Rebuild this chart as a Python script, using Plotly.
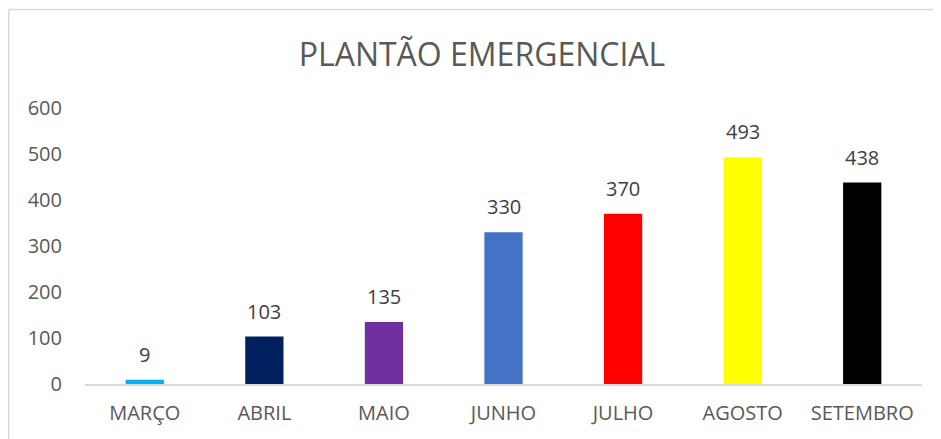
import plotly.graph_objects as go

categories = ["MARÇO", "ABRIL", "MAIO", "JUNHO", "JULHO", "AGOSTO", "SETEMBRO"]
values = [9, 103, 135, 330, 370, 493, 438]
colors = ["#00B0F0", "#002060", "#7030A0", "#4472C4", "#FF0000", "#FFFF00", "#000000"]
title_text = "PLANTÃO EMERGENCIAL"
y_ticks = [0, 100, 200, 300, 400, 500, 600]

W, H = 941, 439
OFF = 8  # page body margin
L, R, T, B = 85 - OFF, 19 + OFF, 108 - OFF, 55 + OFF

fig = go.Figure(go.Bar(
    x=categories, y=values,
    marker=dict(color=colors, line=dict(width=0)),
    cliponaxis=False,
))

for c, v in zip(categories, values):
    fig.add_annotation(x=c, y=v, text=str(v), showarrow=False, yanchor="bottom",
                       yshift=10, font=dict(family="Open Sans", size=20, color="#404040"))

pw, ph = W - L - R, H - T - B
ytop = 1 + (T - 1.5) / ph
fig.add_shape(type="line", xref="paper", yref="paper",
              x0=(0.75 - L) / pw, x1=(W - L) / pw, y0=ytop, y1=ytop,
              line=dict(color="#D9D9D9", width=1.5))
fig.add_shape(type="line", xref="paper", yref="paper",
              x0=(0.75 - L) / pw, x1=(0.75 - L) / pw, y0=ytop, y1=-B / ph - 0.05,
              line=dict(color="#D9D9D9", width=1.5))

fig.update_layout(
    width=W, height=H,
    margin=dict(l=L, r=R, t=T, b=B, pad=0),
    paper_bgcolor="white", plot_bgcolor="white",
    bargap=0.68,
    showlegend=False,
    title=dict(text=title_text, x=(482 - OFF) / W, xref="container",
               xanchor="center", y=1 - 47 / H, yanchor="middle",
               font=dict(family="Open Sans", size=32, color="#595959")),
    xaxis=dict(showgrid=False, showline=True, linecolor="#D9D9D9", linewidth=1.5,
               ticks="", ticklabelstandoff=10,
               tickfont=dict(family="Open Sans", size=20, color="#595959")),
    yaxis=dict(range=[0, 600], tickvals=y_ticks, showgrid=False, showline=False,
               zeroline=False, ticks="", ticklabelstandoff=22,
               tickfont=dict(family="Open Sans", size=20, color="#595959")),
)

fig.write_html("out.html")
